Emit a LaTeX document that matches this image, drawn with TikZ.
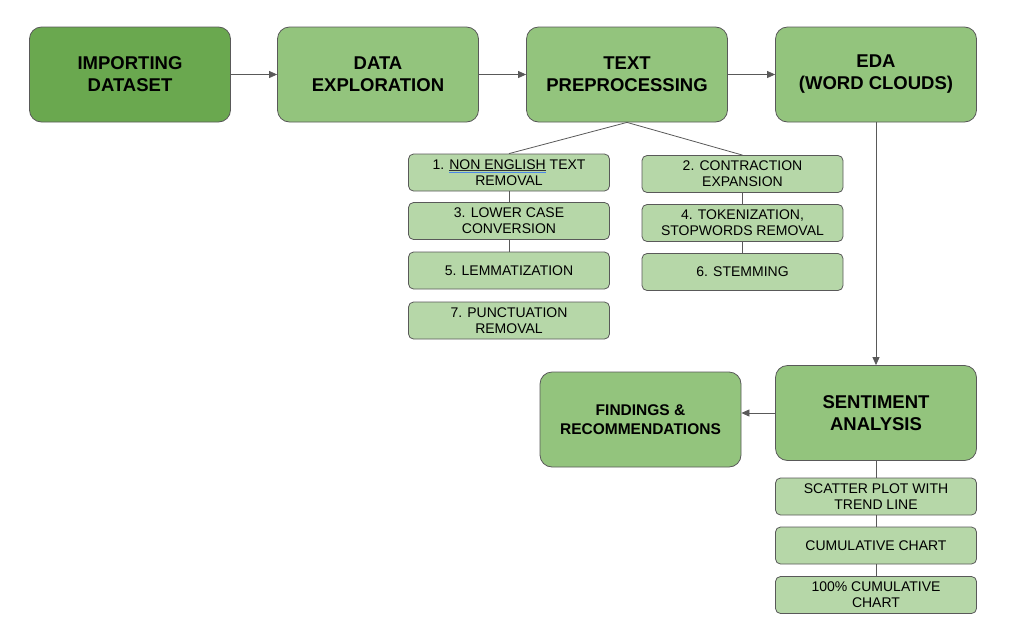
\documentclass[tikz,border=0pt]{standalone}
\usepackage{fontspec}
\setmainfont{Liberation Sans}
\usetikzlibrary{arrows.meta}

\definecolor{stepdark}{HTML}{6AA84F}
\definecolor{stepmid}{HTML}{93C47D}
\definecolor{steplight}{HTML}{B6D7A8}
\definecolor{edgegray}{HTML}{595959}
\definecolor{spellblue}{HTML}{4A86E8}

\newcommand{\spellmark}[1]{\setbox0=\hbox{#1}%
  \rlap{\color{black!80}\rule[-1.6pt]{\wd0}{0.7pt}}%
  \rlap{\color{spellblue}\rule[-3.6pt]{\wd0}{0.9pt}}\box0\relax}

\tikzset{
  mainbox/.style={draw=edgegray,fill=stepmid,line width=0.8pt,rounded corners=12pt,
    minimum width=201pt,minimum height=95pt,inner sep=0pt,align=center,
    font=\fontsize{18.5}{22}\selectfont\bfseries},
  subbox/.style={draw=edgegray,fill=steplight,line width=0.8pt,rounded corners=5pt,
    minimum width=201pt,minimum height=37pt,inner sep=0pt,align=center,
    font=\fontsize{14}{16}\selectfont}
}

\begin{document}
\begin{tikzpicture}[x=1pt,y=-1pt]
      \useasboundingbox (0,0) rectangle (1036,619);

      \begin{scope}[every node/.style={mainbox}]
        \node[fill=stepdark] (import) at (130,74.5)  {IMPORTING\\DATASET};
        \node (explore) at (378,74.5)  {DATA\\EXPLORATION};
        \node (prep)    at (627,74.5)  {TEXT\\PREPROCESSING};
        \node (eda)     at (876,74.5)  {EDA\\(WORD CLOUDS)};
        \node (senti)   at (876,413)   {SENTIMENT\\ANALYSIS};
        \node[font=\fontsize{15.5}{19}\selectfont\bfseries] (find) at (640.5,419.5) {FINDINGS \&\\RECOMMENDATIONS};
      \end{scope}

      \begin{scope}[every node/.style={subbox}]
        \node (s1) at (509,172.5) {1. \spellmark{NON ENGLISH} TEXT\\REMOVAL};
        \node (s3) at (509,221)   {3. LOWER CASE\\CONVERSION};
        \node (s5) at (509,270.5) {5. LEMMATIZATION};
        \node (s7) at (509,320.5) {7. PUNCTUATION\\REMOVAL};
        \node (s2) at (742.5,174) {2. CONTRACTION\\EXPANSION};
        \node (s4) at (742.5,223) {4. TOKENIZATION,\\STOPWORDS REMOVAL};
        \node (s6) at (742.5,272) {6. STEMMING};
        \node (c1) at (876,496.5) {SCATTER PLOT WITH\\TREND LINE};
        \node (c2) at (876,545.5) {CUMULATIVE CHART};
        \node (c3) at (876,595)   {100\% CUMULATIVE\\CHART};
      \end{scope}

      \begin{scope}[every edge/.style={draw=edgegray,line width=0.8pt}]
        \path (prep.south) edge (s1.north);
        \path (prep.south) edge (s2.north);
        \path (s1) edge (s3);
        \path (s3) edge (s5);
        \path (s2) edge (s4);
        \path (s4) edge (s6);
        \path (senti) edge (c1);
        \path (c1) edge (c2);
        \path (c2) edge (c3);
      \end{scope}

      \begin{scope}[every edge/.style={draw=edgegray,line width=0.8pt,-{Triangle[length=8pt,width=7pt]}}]
        \path (import)  edge (explore);
        \path (explore) edge (prep);
        \path (prep)    edge (eda);
        \path (eda)     edge (senti);
        \path (senti.west) edge (senti.west -| find.east);
      \end{scope}

    \end{tikzpicture}
\end{document}
